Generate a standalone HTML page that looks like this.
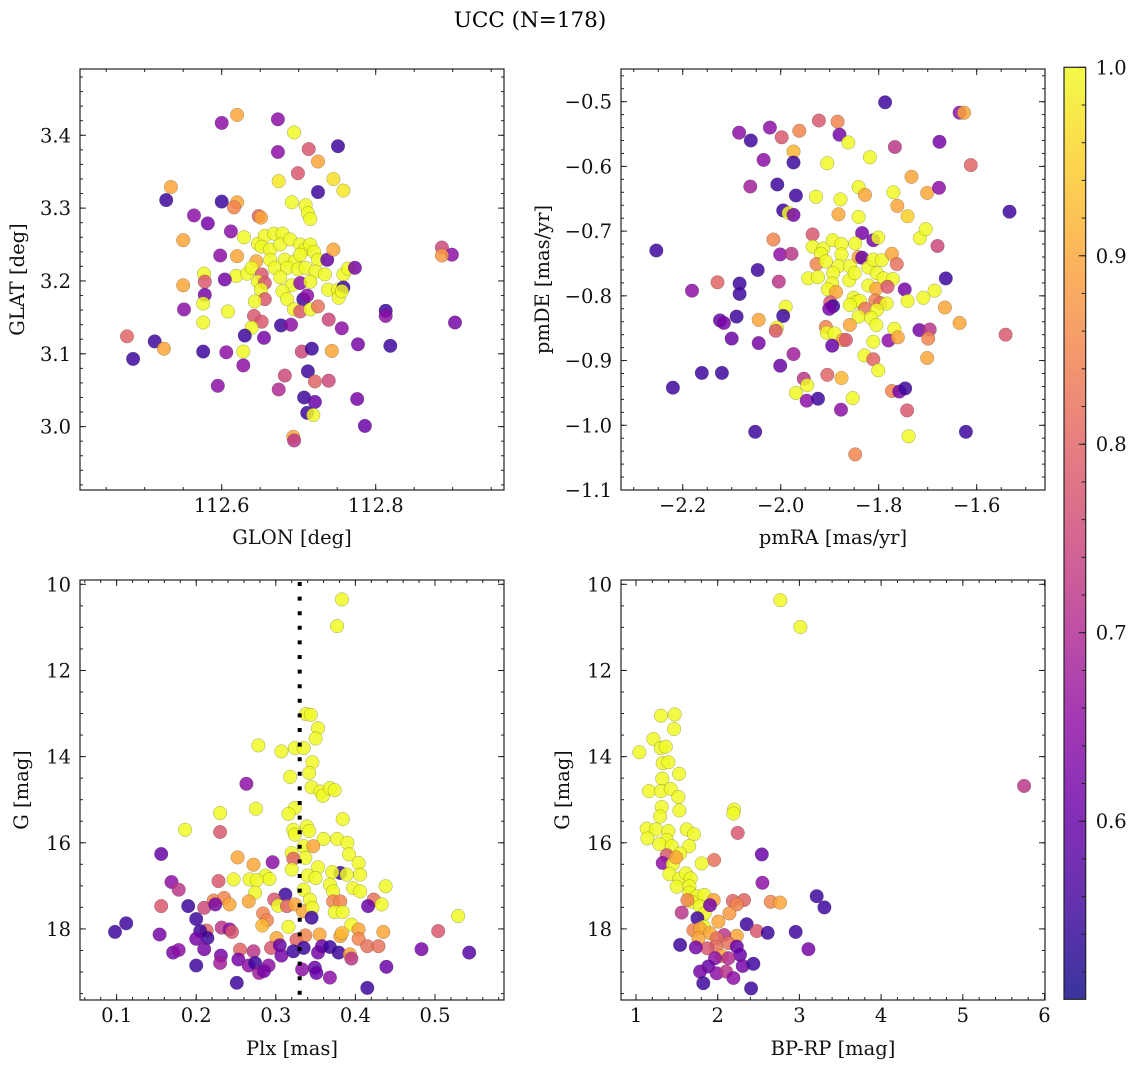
<!DOCTYPE html>
<html><head><meta charset="utf-8"><style>
html,body{margin:0;padding:0;background:#fff;}
svg{display:block;font-family:"DejaVu Serif","Liberation Serif",serif;}
</style></head><body>
<svg id="fig" width="1136" height="1067" viewBox="0 0 1136 1067">
<text x="530" y="27" font-size="21.5" text-anchor="middle" fill="#000">UCC (N=178)</text>
</svg>
<script>
// ---- Panel 1: GLON vs GLAT ----
const glon = [112.600,112.620,112.673,112.694,112.673,112.713,112.751,112.725,112.745,112.725,112.758,112.674,112.699,112.534,112.528,112.600,112.620,112.616,112.564,112.582,112.648,112.651,112.691,112.709,112.712,112.715,112.550,112.612,112.629,112.647,112.656,112.668,112.679,112.652,112.663,112.676,112.689,112.702,112.708,112.715,112.720,112.663,112.682,112.695,112.702,112.725,112.737,112.745,112.645,112.620,112.598,112.577,112.619,112.633,112.639,112.652,112.669,112.685,112.699,112.709,112.722,112.734,112.758,112.764,112.773,112.550,112.578,112.604,112.647,112.656,112.676,112.691,112.702,112.715,112.738,112.751,112.758,112.578,112.651,112.679,112.685,112.706,112.711,112.752,112.756,112.551,112.576,112.656,112.643,112.608,112.642,112.652,112.694,112.702,112.715,112.725,112.739,112.756,112.813,112.813,112.576,112.639,112.677,112.690,112.630,112.655,112.704,112.717,112.743,112.777,112.819,112.477,112.513,112.525,112.485,112.576,112.606,112.628,112.628,112.712,112.682,112.721,112.739,112.595,112.674,112.707,112.721,112.776,112.711,112.719,112.693,112.694,112.786,112.886,112.899,112.886,112.903];
const glat = [3.417,3.428,3.422,3.404,3.377,3.381,3.385,3.364,3.340,3.322,3.324,3.337,3.348,3.329,3.311,3.309,3.308,3.301,3.290,3.279,3.289,3.287,3.308,3.304,3.293,3.285,3.256,3.268,3.260,3.251,3.262,3.265,3.265,3.247,3.243,3.250,3.257,3.250,3.243,3.250,3.240,3.229,3.229,3.227,3.236,3.229,3.229,3.243,3.227,3.234,3.235,3.210,3.207,3.210,3.218,3.209,3.218,3.218,3.216,3.218,3.213,3.209,3.209,3.217,3.218,3.194,3.199,3.202,3.199,3.197,3.205,3.194,3.197,3.199,3.188,3.188,3.191,3.181,3.188,3.186,3.175,3.175,3.180,3.177,3.186,3.161,3.169,3.175,3.172,3.158,3.152,3.144,3.161,3.158,3.161,3.165,3.147,3.135,3.159,3.152,3.143,3.136,3.139,3.140,3.125,3.122,3.103,3.107,3.104,3.113,3.111,3.124,3.117,3.107,3.093,3.103,3.102,3.103,3.084,3.076,3.070,3.062,3.063,3.056,3.051,3.040,3.034,3.038,3.019,3.016,2.986,2.981,3.001,3.246,3.236,3.235,3.143];
const prob1 = [.65,.9,.65,1,.65,.78,.55,.9,.97,.55,.98,.98,.78,.9,.55,.55,.9,.85,.65,.62,.8,.9,1,1,1,1,.9,.65,1,1,1,1,1,1,1,1,1,1,1,1,1,1,1,1,1,1,.6,.9,.9,.9,.65,1,1,1,1,.78,1,1,1,1,1,1,1,1,.62,.9,.78,.62,1,.78,1,1,.65,1,1,1,.55,.62,1,1,1,.55,.65,1,1,.65,1,.78,1,1,.78,.78,1,.78,1,.82,.75,.65,.55,.65,1,1,.55,.65,.55,.62,.75,.55,.9,.62,.55,.8,.55,.9,.55,.55,.65,1,.65,.55,.75,.8,.75,.65,.7,.55,.6,.62,.55,1,.9,.72,.6,.75,.65,.88,.62];

// ---- Panel 2: pmRA vs pmDE ----
const pmra = [-1.787,-1.635,-1.626,-1.922,-1.884,-2.022,-2.085,-1.962,-1.998,-1.880,-2.061,-1.862,-1.767,-1.676,-1.974,-1.974,-1.905,-1.818,-2.035,-1.612,-2.007,-2.062,-1.733,-1.969,-1.928,-1.878,-1.841,-1.828,-1.770,-1.701,-1.677,-1.762,-1.741,-1.533,-1.995,-1.984,-1.974,-1.882,-1.841,-1.716,-1.704,-1.680,-1.935,-1.834,-1.811,-1.801,-2.015,-2.254,-2.001,-1.978,-1.935,-1.913,-1.894,-1.876,-1.876,-1.848,-1.918,-1.927,-1.908,-1.882,-1.859,-1.841,-1.834,-1.821,-1.811,-1.794,-1.773,-1.763,-2.047,-1.944,-1.924,-1.893,-1.860,-1.849,-1.804,-1.790,-1.771,-1.663,-1.895,-1.821,-1.805,-1.782,-2.129,-2.084,-2.004,-2.181,-2.084,-1.904,-1.887,-1.747,-1.686,-1.709,-1.851,-1.845,-1.838,-1.859,-1.807,-1.797,-1.784,-1.741,-1.899,-1.893,-1.901,-1.990,-1.665,-1.828,-1.804,-1.841,-1.816,-2.090,-1.995,-2.124,-2.116,-2.045,-1.805,-1.859,-1.635,-1.768,-1.717,-1.696,-1.541,-1.908,-2.008,-2.010,-1.906,-1.890,-1.873,-1.867,-1.811,-1.780,-1.761,-1.699,-2.100,-2.045,-1.895,-1.974,-1.829,-1.811,-1.701,-2.001,-2.161,-2.120,-1.801,-1.905,-1.876,-1.953,-1.946,-2.220,-1.969,-1.773,-1.758,-1.746,-1.853,-1.947,-1.924,-1.877,-1.742,-2.052,-1.622,-1.739,-1.848];
const pmde = [-0.501,-0.517,-0.517,-0.529,-0.531,-0.540,-0.548,-0.545,-0.555,-0.551,-0.560,-0.563,-0.570,-0.562,-0.577,-0.594,-0.595,-0.586,-0.590,-0.598,-0.628,-0.631,-0.616,-0.645,-0.647,-0.651,-0.632,-0.644,-0.640,-0.641,-0.633,-0.661,-0.677,-0.670,-0.668,-0.672,-0.675,-0.674,-0.678,-0.711,-0.697,-0.723,-0.705,-0.703,-0.714,-0.710,-0.713,-0.730,-0.736,-0.735,-0.724,-0.727,-0.714,-0.720,-0.736,-0.719,-0.735,-0.751,-0.747,-0.754,-0.754,-0.740,-0.741,-0.756,-0.744,-0.745,-0.735,-0.751,-0.760,-0.773,-0.771,-0.765,-0.776,-0.765,-0.765,-0.773,-0.774,-0.773,-0.781,-0.784,-0.789,-0.786,-0.779,-0.781,-0.778,-0.792,-0.797,-0.790,-0.794,-0.790,-0.792,-0.803,-0.803,-0.809,-0.808,-0.814,-0.807,-0.811,-0.812,-0.808,-0.810,-0.816,-0.820,-0.817,-0.818,-0.820,-0.822,-0.832,-0.834,-0.832,-0.831,-0.838,-0.842,-0.837,-0.845,-0.845,-0.842,-0.851,-0.853,-0.852,-0.860,-0.848,-0.849,-0.854,-0.857,-0.858,-0.868,-0.868,-0.871,-0.869,-0.864,-0.866,-0.866,-0.873,-0.877,-0.890,-0.892,-0.898,-0.896,-0.908,-0.919,-0.919,-0.915,-0.922,-0.927,-0.928,-0.938,-0.942,-0.950,-0.947,-0.948,-0.943,-0.958,-0.962,-0.959,-0.976,-0.977,-1.010,-1.010,-1.017,-1.045];
const prob2 = [.55,.65,.9,.78,.85,.65,.65,.85,.78,.62,.55,1,.72,.62,.92,.55,1,1,.65,.8,.55,.68,.9,.55,1,1,1,.9,1,.9,.65,.9,.95,.55,.55,1,.62,.9,1,1,1,.75,.78,.62,.62,1,.85,.55,.65,.72,1,1,1,1,1,1,1,.85,1,1,1,.9,.6,1,1,1,.9,.82,.55,1,1,1,1,1,1,1,1,.55,1,1,.9,.78,.8,.55,.72,.65,.55,1,.9,.62,1,1,1,1,1,1,.85,.82,1,1,.78,.55,.62,1,.9,.82,1,1,1,.55,.55,.6,.62,.9,1,.9,.9,1,.62,.72,.78,.85,1,.78,1,1,.9,.78,1,.65,.9,.85,.6,.62,.6,.68,1,.8,.9,.6,.55,.55,1,.8,.92,.72,1,.55,1,.85,.62,.55,1,.65,.55,.65,.78,.55,.55,1,.85];

// ---- Panel 3: Plx vs G ----
const plx = [.383,.377,.338,.344,.353,.350,.278,.307,.324,.335,.346,.342,.318,.345,.356,.359,.368,.374,.263,.275,.230,.324,.316,.384,.186,.230,.322,.339,.342,.324,.360,.377,.390,.335,.347,.392,.320,.337,.322,.156,.296,.252,.272,.404,.353,.320,.381,.371,.389,.406,.340,.350,.287,.292,.247,.267,.276,.228,.169,.178,.368,.397,.406,.438,.335,.372,.274,.312,.266,.222,.235,.298,.343,.372,.381,.423,.433,.529,.156,.190,.210,.224,.242,.303,.314,.324,.334,.346,.416,.374,.384,.345,.200,.284,.289,.283,.316,.395,.404,.435,.381,.383,.355,.232,.242,.245,.213,.205,.098,.112,.154,.214,.200,.301,.326,.337,.404,.415,.429,.504,.210,.171,.178,.255,.272,.294,.305,.307,.322,.335,.353,.358,.368,.379,.393,.395,.483,.543,.231,.230,.253,.200,.266,.274,.291,.279,.285,.333,.349,.351,.368,.439,.251,.415];
const gmag3 = [10.35,10.97,13.01,13.03,13.34,13.58,13.74,13.88,13.80,13.80,14.13,14.38,14.47,14.71,14.81,14.91,14.73,14.78,14.63,15.21,15.31,15.19,15.33,15.45,15.70,15.75,15.70,15.62,15.73,15.81,15.91,15.91,16.00,16.08,16.08,16.27,16.24,16.35,16.37,16.26,16.45,16.34,16.51,16.47,16.57,16.62,16.70,16.68,16.74,16.74,16.76,16.82,16.76,16.84,16.85,16.85,16.87,16.89,16.91,17.09,16.97,17.05,17.13,17.01,17.09,17.13,17.16,17.20,17.36,17.34,17.28,17.32,17.32,17.36,17.36,17.32,17.43,17.70,17.47,17.47,17.51,17.43,17.43,17.46,17.47,17.43,17.59,17.51,17.47,17.61,17.61,17.74,17.77,17.64,17.80,17.92,17.95,17.90,18.01,18.07,18.17,18.10,18.13,17.97,18.01,18.07,18.04,18.05,18.07,17.87,18.13,18.21,18.23,18.21,18.25,18.15,18.23,18.40,18.40,18.05,18.47,18.55,18.49,18.48,18.52,18.44,18.38,18.62,18.52,18.44,18.55,18.40,18.42,18.55,18.59,18.69,18.47,18.55,18.62,18.79,18.71,18.85,18.85,18.79,18.85,19.02,18.98,18.94,18.90,19.02,19.13,18.88,19.25,19.37];
const prob3 = [1,1,1,1,1,1,1,1,1,1,1,1,1,1,1,1,1,1,.65,1,1,1,1,1,1,.78,1,1,1,1,1,1,1,1,.9,1,1,1,.8,.6,.65,.9,.9,1,1,1,.55,1,1,1,1,1,1,1,1,1,1,.78,.65,.72,1,1,1,1,1,1,1,.55,.9,.85,.85,.78,1,.85,.85,.82,1,1,.78,.55,.75,.62,.9,1,.8,.9,.9,1,.6,1,1,.55,.55,.85,.85,.92,1,1,.9,.9,.9,.92,.9,.72,.65,.78,.8,.55,.55,.55,.62,.55,.62,.9,.8,.85,.85,.82,.82,.78,.62,.62,.65,.8,.72,.78,.6,.62,.55,.55,.62,.6,.55,.55,.9,.72,.62,.58,.62,.68,.62,.55,.65,.55,.65,.68,.62,.65,.6,.6,.65,.6,.55,.55];

// ---- Panel 4: BP-RP vs G ----
const bprp = [2.767,3.012,1.306,1.473,1.465,1.212,1.302,1.363,1.041,1.327,1.396,1.527,1.322,1.159,1.306,1.424,1.518,1.314,1.294,1.531,2.200,2.192,1.131,1.245,1.139,1.396,1.620,1.710,1.376,1.286,1.437,1.649,2.245,1.539,1.376,2.539,1.955,1.804,1.327,1.449,1.490,1.408,1.531,1.612,1.669,2.547,1.498,1.653,1.653,1.751,1.837,1.951,2.184,2.322,2.233,2.649,2.763,3.212,3.306,1.682,1.629,1.784,1.841,1.906,1.559,2.143,1.751,2.355,2.478,2.612,2.955,1.833,2.008,1.702,1.784,1.906,1.763,2.233,2.078,1.988,2.131,1.980,1.873,2.233,1.539,1.731,2.049,2.273,3.110,1.967,2.131,1.886,1.784,1.988,2.102,2.192,2.306,2.437,1.824,2.408,5.750];
const gmag4 = [10.37,10.99,13.05,13.02,13.36,13.59,13.80,13.77,13.90,14.15,14.13,14.40,14.51,14.80,14.80,14.75,14.94,15.17,15.39,15.25,15.23,15.32,15.67,15.69,15.90,15.73,15.69,15.80,15.94,16.03,16.08,16.08,15.77,16.25,16.29,16.27,16.40,16.48,16.47,16.50,16.34,16.73,16.83,16.71,16.83,16.93,17.02,17.01,17.16,17.24,17.21,17.33,17.35,17.33,17.43,17.37,17.39,17.24,17.50,17.37,17.33,17.48,17.64,17.45,17.62,17.64,17.75,17.89,18.05,18.09,18.07,17.95,17.83,18.03,17.99,18.10,18.22,18.16,18.14,18.22,18.33,18.41,18.45,18.41,18.37,18.43,18.63,18.60,18.47,18.68,18.68,18.87,18.99,19.03,18.99,19.14,18.86,18.81,19.26,19.38,14.68];
const prob4 = [1,1,1,1,1,1,1,1,1,1,1,1,1,1,1,1,1,1,1,1,1,1,1,1,1,1,1,1,1,1,1,1,.78,1,.78,.6,.82,1,.65,1,.9,1,1,1,1,.65,1,1,1,1,1,.9,.8,.8,.85,.85,.9,.55,.55,1,.85,1,1,.62,.72,.88,.55,.55,.78,.55,.55,1,.9,.85,.9,.9,.9,.9,.72,.82,.82,.82,.78,.6,.55,.62,.9,.6,.62,.65,.7,.6,.62,.65,.72,.65,.62,.55,.55,.55,.72];

// ---- Axis ticks ----
const p1XTicks = [112.6, 112.8];
const p1YTicks = [3.0, 3.1, 3.2, 3.3, 3.4];
const p2XTicks = [-2.2, -2.0, -1.8, -1.6];
const p2YTicks = [-1.1, -1.0, -0.9, -0.8, -0.7, -0.6, -0.5];
const p3XTicks = [0.1, 0.2, 0.3, 0.4, 0.5];
const magTicks = [10, 12, 14, 16, 18];
const p4XTicks = [1, 2, 3, 4, 5, 6];
const cbarTicks = [0.6, 0.7, 0.8, 0.9, 1.0];
const plxMean = [0.330];

const SVGNS = "http://www.w3.org/2000/svg";
const svg = document.getElementById('fig');
const VMIN = 0.5055, VMAX = 1.0;
const FS = 19.5;
const plasmaStops = [[13,8,135],[65,4,157],[106,0,168],[143,13,164],[177,42,144],[204,71,120],[225,100,98],[242,132,75],[252,166,54],[252,206,37],[240,249,33]];
function plasma(t){
  t = Math.max(0, Math.min(1, t));
  const f = t*10, i = Math.min(9, Math.floor(f)), r = f - i;
  const a = plasmaStops[i], b = plasmaStops[i+1];
  return 'rgb(' + [0,1,2].map(k => Math.round(a[k] + (b[k]-a[k])*r)).join(',') + ')';
}
function colorOf(p){ return plasma((p - VMIN)/(VMAX - VMIN)); }
function mk(tag, attrs, parent){
  const e = document.createElementNS(SVGNS, tag);
  for (const k in attrs) e.setAttribute(k, attrs[k]);
  (parent || svg).appendChild(e);
  return e;
}
function fmt(v, dec){ const s = Math.abs(v).toFixed(dec); return (v < -1e-9 ? '\u2212' : '') + s; }

function panel(cfg){
  const g = mk('g', {});
  
  
  const [L,T,R,B] = cfg.box;
  const sx = v => L + (v - cfg.x[0])/(cfg.x[1]-cfg.x[0])*(R-L);
  const sy = v => B - (v - cfg.y[0])/(cfg.y[1]-cfg.y[0])*(B-T);
  const cid = 'clip-' + cfg.name;
  const cp = mk('clipPath', {id: cid}, g);
  mk('rect', {x:L, y:T, width:R-L, height:B-T}, cp);
  const pts = mk('g', {'clip-path':'url(#'+cid+')'}, g);
  
  
  for (let i = 0; i < cfg.xs.length; i++){
    const c = mk('circle', {cx: sx(cfg.xs[i]).toFixed(1), cy: sy(cfg.ys[i]).toFixed(1), r: 6.8, fill: colorOf(cfg.ps[i]), 'fill-opacity': 0.84, stroke: 'rgba(60,60,60,0.45)', 'stroke-width': 0.5}, pts);
    
    
  }
  if (cfg.vline){
    for (const v of cfg.vline){
      const ln = mk('line', {x1: sx(v), x2: sx(v), y1: T+2, y2: B, stroke:'#000', 'stroke-width':4, 'stroke-dasharray':'4 10.6'}, g);
      
      
    }
  }
  const fr = mk('rect', {x:L, y:T, width:R-L, height:B-T, fill:'none', stroke:'#222', 'stroke-width':1.2}, g);
  
  
  const tk = mk('g', {stroke:'#222', 'stroke-width':1}, g);
  const mstart = Math.ceil(cfg.x[0]/cfg.xm - 1e-6);
  for (let k = mstart; k*cfg.xm <= cfg.x[1]; k++){
    const X = sx(k*cfg.xm);
    mk('line', {x1:X, x2:X, y1:B, y2:B-3}, tk); mk('line', {x1:X, x2:X, y1:T, y2:T+3}, tk);
  }
  const ylo = Math.min(cfg.y[0], cfg.y[1]), yhi = Math.max(cfg.y[0], cfg.y[1]);
  for (let k = Math.ceil(ylo/cfg.ym - 1e-6); k*cfg.ym <= yhi; k++){
    const Y = sy(k*cfg.ym);
    mk('line', {x1:L, x2:L+3, y1:Y, y2:Y}, tk); mk('line', {x1:R, x2:R-3, y1:Y, y2:Y}, tk);
  }
  for (const v of cfg.xt){
    const X = sx(v);
    mk('line', {x1:X, x2:X, y1:B, y2:B-6}, tk); mk('line', {x1:X, x2:X, y1:T, y2:T+6}, tk);
    const t = mk('text', {x:X, y:B+22, 'font-size':FS, 'text-anchor':'middle', fill:'#111'}, g);
    t.textContent = fmt(v, cfg.xd);
    
    
  }
  for (const v of cfg.yt){
    const Y = sy(v);
    mk('line', {x1:L, x2:L+6, y1:Y, y2:Y}, tk); mk('line', {x1:R, x2:R-6, y1:Y, y2:Y}, tk);
    const t = mk('text', {x:L-9, y:Y+7, 'font-size':FS, 'text-anchor':'end', fill:'#111'}, g);
    t.textContent = fmt(v, cfg.yd);
    
    
  }
  const xl = mk('text', {x:(L+R)/2, y:cfg.xly, 'font-size':FS, 'text-anchor':'middle', fill:'#111'}, g);
  xl.textContent = cfg.xlabel;
  
  
  const yc = (T+B)/2;
  const yl = mk('text', {x:cfg.ylx, y:yc, 'font-size':FS, 'text-anchor':'middle', fill:'#111', transform:'rotate(-90 '+cfg.ylx+' '+yc+')'}, g);
  yl.textContent = cfg.ylabel;
  
  
}

panel({name:'glon-glat-panel', box:[80,69,504,490], x:[112.416,112.9666], y:[2.913,3.491], xs:glon, ys:glat, ps:prob1, xt:p1XTicks, yt:p1YTicks, xm:0.05, ym:0.02, xd:1, yd:1, xlabel:'GLON [deg]', ylabel:'GLAT [deg]', xly:544, ylx:24});
panel({name:'pm-panel', box:[621,69,1045,490], x:[-2.326,-1.4606], y:[-1.1,-0.4495], xs:pmra, ys:pmde, ps:prob2, xt:p2XTicks, yt:p2YTicks, xm:0.05, ym:0.02, xd:1, yd:1, xlabel:'pmRA [mas/yr]', ylabel:'pmDE [mas/yr]', xly:544, ylx:549});
panel({name:'plx-g-panel', box:[80,580,504,1000], x:[0.054,0.5867], y:[19.65,9.9], xs:plx, ys:gmag3, ps:prob3, xt:p3XTicks, yt:magTicks, xm:0.02, ym:0.5, xd:1, yd:0, xlabel:'Plx [mas]', ylabel:'G [mag]', xly:1055, ylx:28, vline:plxMean});
panel({name:'cmd-panel', box:[621,580,1045,1000], x:[0.816,6.006], y:[19.65,9.9], xs:bprp, ys:gmag4, ps:prob4, xt:p4XTicks, yt:magTicks, xm:0.2, ym:0.5, xd:0, yd:0, xlabel:'BP-RP [mag]', ylabel:'G [mag]', xly:1055, ylx:569});

// ---- Colorbar ----
(function(){
  const L = 1064, R = 1085.7, T = 67.3, B = 999.3;
  const defs = mk('defs', {});
  const gr = mk('linearGradient', {id:'cbgrad', x1:0, y1:1, x2:0, y2:0}, defs);
  for (let i = 0; i <= 20; i++){
    mk('stop', {offset: (i/20), 'stop-color': plasma(i/20)}, gr);
  }
  const g = mk('g', {});
  
  
  mk('rect', {x:L, y:T, width:R-L, height:B-T, fill:'url(#cbgrad)', 'fill-opacity':0.82, stroke:'#222', 'stroke-width':1.2}, g);
  const sy = v => B - (v - VMIN)/(VMAX - VMIN)*(B - T);
  const tk = mk('g', {stroke:'#222', 'stroke-width':1}, g);
  for (let k = Math.ceil(VMIN/0.02); k*0.02 <= VMAX + 1e-9; k++){
    const Y = sy(k*0.02);
    mk('line', {x1:R, x2:R-4, y1:Y, y2:Y}, tk);
  }
  for (const v of cbarTicks){
    const Y = sy(v);
    mk('line', {x1:R, x2:R-7, y1:Y, y2:Y}, tk);
    const t = mk('text', {x:R+10, y:Y+7, 'font-size':FS, fill:'#111'}, g);
    t.textContent = v.toFixed(1);
    
    
  }
})();
</script>
</body></html>
